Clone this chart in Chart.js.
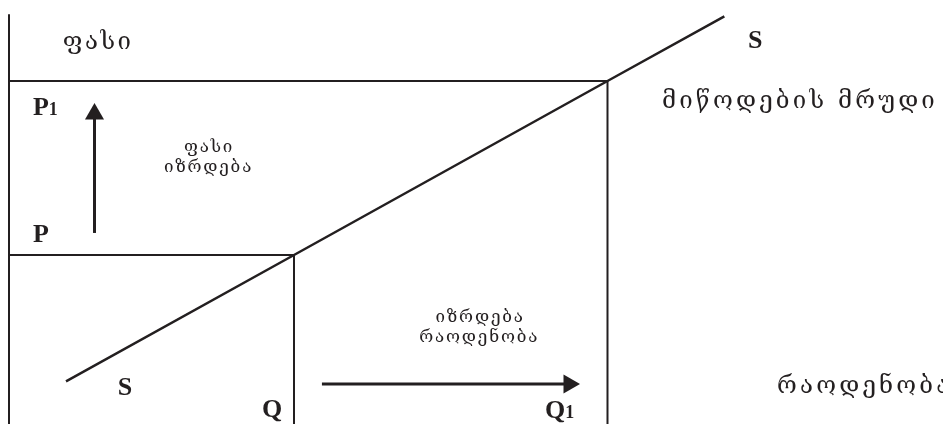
<!DOCTYPE html>
<html>
<head>
<meta charset="utf-8">
<script src="https://cdn.jsdelivr.net/npm/chart.js@4"></script>
<style>
  body { margin: 0; background: #fff; }
  canvas { display: block; }
</style>
</head>
<body>
<canvas id="supplyChart" width="943" height="424"></canvas>
<script>
// price levels: P, P1
const priceLevels = [6, 12];
// quantity levels: Q, Q1
const quantityLevels = [10, 21];
// supply curve S
const supplyQ = [2.0, 10, 21, 25.1];
const supplyP = [1.64, 6, 12, 14.23];
// arrows: price rises, quantity rises
const priceArrowQ = [3.0, 3.0];
const priceArrowP = [6.76, 10.86];
const qtyArrowQ = [10.98, 19.65];
const qtyArrowP = [1.55, 1.55];
const axisTop = 14.3;

const ink = '#231f20';
const geoFont = '"DejaVu Serif", "DejaVu Sans", serif';
const latFont = '"Liberation Serif", "Times New Roman", serif';

function pts(xs, ys) {
    return xs.map((x, i) => ({ x: x, y: ys[i] }));
}

const textLabels = [
    { text: 'ფასი', q: 1.89, p: 13.31, size: 24, font: geoFont, align: 'left', base: 'middle', spacing: 2.5 },
    { text: 'ფასი', q: 7.02, p: 9.72, size: 17, font: geoFont, align: 'center', base: 'middle', spacing: 1.8 },
    { text: 'იზრდება', q: 7.0, p: 9.03, size: 17, font: geoFont, align: 'center', base: 'middle', spacing: 1.8 },
    { text: 'იზრდება', q: 16.53, p: 3.83, size: 17, font: geoFont, align: 'center', base: 'middle', spacing: 1.8 },
    { text: 'რაოდენობა', q: 16.5, p: 3.14, size: 17, font: geoFont, align: 'center', base: 'middle', spacing: 1.8 },
    { text: 'მიწოდების მრუდი', q: 22.91, p: 11.28, size: 24, font: geoFont, align: 'left', base: 'middle', spacing: 3.2 },
    { text: 'რაოდენობა', q: 26.95, p: 1.45, size: 24, font: geoFont, align: 'left', base: 'middle', spacing: 3.2 },
    { text: 'P', q: 0.84, p: 10.83, size: 26, font: latFont, bold: true, align: 'left', base: 'alphabetic', sub: '1' },
    { text: 'P', q: 0.84, p: 6.45, size: 26, font: latFont, bold: true, align: 'left', base: 'alphabetic' },
    { text: 'S', q: 3.82, p: 1.17, size: 26, font: latFont, bold: true, align: 'left', base: 'alphabetic' },
    { text: 'Q', q: 8.88, p: 0.41, size: 26, font: latFont, bold: true, align: 'left', base: 'alphabetic' },
    { text: 'Q', q: 18.81, p: 0.38, size: 26, font: latFont, bold: true, align: 'left', base: 'alphabetic', sub: '1' },
    { text: 'S', q: 25.93, p: 13.14, size: 26, font: latFont, bold: true, align: 'left', base: 'alphabetic' }
];

const labelPlugin = {
    id: 'labelPlugin',
    afterDatasetsDraw(chart) {
        const ctx = chart.ctx;
        const xs = chart.scales.x, ys = chart.scales.y;
        ctx.save();
        ctx.fillStyle = ink;
        textLabels.forEach(l => {
            const px = xs.getPixelForValue(l.q);
            const py = ys.getPixelForValue(l.p);
            ctx.font = (l.bold ? 'bold ' : '') + l.size + 'px ' + l.font;
            ctx.letterSpacing = (l.spacing || 0) + 'px';
            ctx.textAlign = l.align;
            ctx.textBaseline = l.base;
            ctx.fillText(l.text, px, py);
            if (l.sub) {
                const w = ctx.measureText(l.text).width;
                ctx.font = 'bold ' + Math.round(l.size * 0.7) + 'px ' + l.font;
                ctx.fillText(l.sub, px + w, py);
            }
        });
        ctx.letterSpacing = '0px';
        ctx.restore();
    }
};

function lineSet(data, width) {
    return {
        data: data,
        showLine: true,
        borderColor: ink,
        borderWidth: width,
        pointRadius: 0,
        fill: false
    };
}

const qArrow = lineSet(pts(qtyArrowQ, qtyArrowP), 3);
qArrow.pointStyle = 'triangle';
qArrow.pointRadius = [0, 11];
qArrow.pointRotation = 90;
qArrow.pointBackgroundColor = ink;
qArrow.pointBorderWidth = 0;

const pArrow = lineSet(pts(priceArrowQ, priceArrowP), 3);
pArrow.pointStyle = 'triangle';
pArrow.pointRadius = [0, 11];
pArrow.pointRotation = 0;
pArrow.pointBackgroundColor = ink;
pArrow.pointBorderWidth = 0;

new Chart(document.getElementById('supplyChart'), {
    type: 'scatter',
    data: {
        datasets: [
            // price axis
            lineSet([{ x: 0, y: axisTop }, { x: 0, y: 0 }], 2),
            // P1 and Q1 lines
            lineSet([{ x: 0, y: priceLevels[1] }, { x: quantityLevels[1], y: priceLevels[1] }, { x: quantityLevels[1], y: 0 }], 2),
            // P and Q lines
            lineSet([{ x: 0, y: priceLevels[0] }, { x: quantityLevels[0], y: priceLevels[0] }, { x: quantityLevels[0], y: 0 }], 2),
            // supply curve
            lineSet(pts(supplyQ, supplyP), 2.5),
            pArrow,
            qArrow
        ]
    },
    options: {
        responsive: false,
        animation: false,
        layout: { padding: 0, autoPadding: false },
        plugins: {
            legend: { display: false },
            tooltip: { enabled: false }
        },
        scales: {
            x: { type: 'linear', min: -0.3158, max: 32.772, display: false },
            y: { type: 'linear', min: 0.1724, max: 14.793, display: false }
        }
    },
    plugins: [labelPlugin]
});
</script>
</body>
</html>
